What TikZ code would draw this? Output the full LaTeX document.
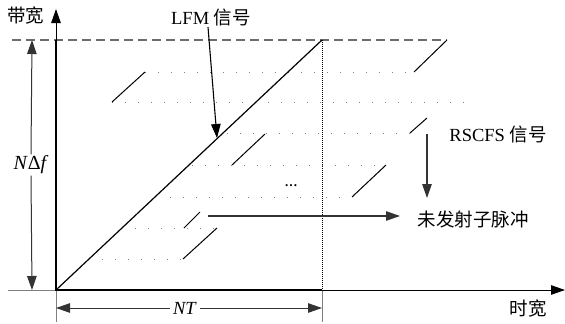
\documentclass[tikz,border=0pt]{standalone}
\usepackage{fontspec}
\setmainfont{Liberation Serif}
\newfontfamily\cjk{Noto Sans CJK SC}
\usetikzlibrary{arrows.meta}
\tikzset{
  tip/.style={-{Triangle[length=14pt,width=9.5pt]}},
  thin axis/.style={line width=1pt, gray},
  dimline/.style={line width=1pt, black!80},
  pulse/.style={line width=1pt},
  level/.style={line width=1pt, gray, dash pattern=on 1.2pt off 11.8pt},
  lbl/.style={font=\fontsize{18.5}{22}\selectfont, inner sep=1pt},
}
\begin{document}
\begin{tikzpicture}[x=1pt, y=-1pt, line width=1pt]
  \useasboundingbox (0,0) rectangle (565,324);
  % frequency levels of the sub-pulses
  \draw[level] (145,72) -- (414,72);
  \draw[level] (112,102) -- (470,102);
  \draw[level] (227,133) -- (410,133);
  \draw[level] (192,165) -- (386,165);
  \draw[level] (170,197) -- (352,197);
  \draw[level] (135,228) -- (217,228);
  \draw[level] (102,259) -- (183,259);
  % band edge and time edge
  \draw[line width=1.5pt, gray!85!black, dash pattern=on 9pt off 5pt] (12,40) -- (447,40);
  \draw[densely dotted, line width=1pt] (322,40) -- (322,290);
  \draw[thin axis] (322,290) -- (322,322);
  % axes
  \draw[thin axis] (8,290) -- (56,290);
  \draw[thin axis] (56,290) -- (56,322);
  \draw[thin axis, tip, black] (56,290) -- (56,9);
  \draw[thin axis, tip, black] (56,290) -- (565,290);
  \draw[line width=2pt] (56,40) -- (56,290) -- (322,290);
  % LFM and the sub-pulses
  \draw[line width=1.2pt] (56,290) -- (322,40);
  \draw[pulse] (414,72) -- (447,40);
  \draw[pulse] (112,102) -- (145,72);
  \draw[pulse] (410,133) -- (427,118);
  \draw[pulse] (232,165) -- (265,134);
  \draw[pulse] (352,197) -- (386,165);
  \draw[pulse] (184,228) -- (200,212);
  \draw[pulse] (183,259) -- (217,228);
  % labels
  \node[lbl] (bw) at (26,16) {\cjk 带宽};
  \node[lbl] (tw) at (528,309) {\cjk 时宽};
  \node[lbl] (lfm) at (211,17) {LFM {\cjk 信号}};
  \node[lbl] (rscfs) at (498,134) {RSCFS {\cjk 信号}};
  \node[lbl] (miss) at (473,219) {\cjk 未发射子脉冲};
  \node[lbl, font=\fontsize{20}{22}\selectfont] (ndf) at (31,165) {\textit{N}Δ\textit{f}};
  \node[lbl, fill=white, inner xsep=3pt] (nt) at (185,308) {\textit{NT}};
  \node[font=\bfseries\fontsize{13}{13}\selectfont, inner sep=0pt] (more) at (291,186) {…};
  % annotation arrows
  \coordinate (hit) at (217,138);
  \draw[tip, line width=1.1pt] ([xshift=-3pt]lfm.south) -- (hit);
  \draw[tip, line width=1.2pt, black!80] (427,134) -- (427,198);
  \draw[tip, line width=1.2pt, black!80] (208,216) -- (400,216);
  % dimensions
  \draw[tip, dimline] (ndf.north) -- (32,40);
  \draw[tip, dimline] (ndf.south) -- (32,290);
  \draw[tip, dimline] (nt.west) -- (56,308);
  \draw[tip, dimline] (nt.east) -- (322,308);
\end{tikzpicture}
\end{document}
